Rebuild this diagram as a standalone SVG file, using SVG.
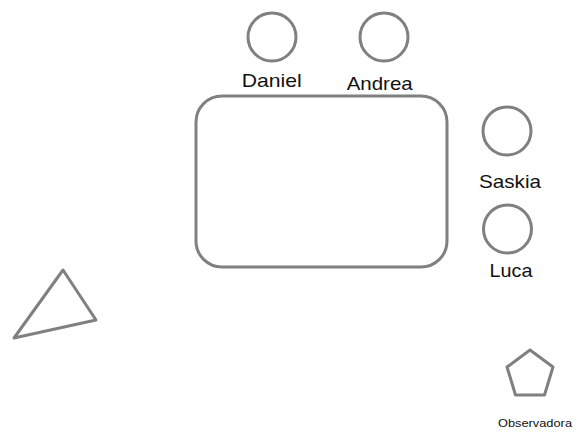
<svg xmlns="http://www.w3.org/2000/svg" width="582" height="436" viewBox="0 0 582 436">
<style>
.s{fill:#fff;stroke:#808080;stroke-width:3;stroke-linejoin:round}
.t{font-family:"Liberation Sans",Arial,sans-serif;font-size:18.6px;fill:#111;text-anchor:middle}
.o{font-family:"Liberation Sans",Arial,sans-serif;font-size:11.5px;fill:#111;text-anchor:middle}
</style>
<rect width="582" height="436" fill="#fff"/>
<g id="table"><rect class="s" x="196" y="96" width="251" height="171" rx="26"/></g>
<g id="daniel"><circle class="s" cx="272" cy="37" r="24"/><text class="t" x="271.7" y="86.5" textLength="60" lengthAdjust="spacingAndGlyphs">Daniel</text></g>
<g id="andrea"><circle class="s" cx="384" cy="37" r="24"/><text class="t" x="379.7" y="90" textLength="66" lengthAdjust="spacingAndGlyphs">Andrea</text></g>
<g id="saskia"><circle class="s" cx="507" cy="131" r="24"/><text class="t" x="510" y="188.3" textLength="62" lengthAdjust="spacingAndGlyphs">Saskia</text></g>
<g id="luca"><circle class="s" cx="507.5" cy="229" r="24"/><text class="t" x="511" y="276.7" textLength="43" lengthAdjust="spacingAndGlyphs">Luca</text></g>
<g id="triangle"><polygon class="s" points="63,270 96,320 14,338"/></g>
<g id="observadora"><polygon class="s" points="530,350 553,367 544.5,395 515.5,395 507,367"/><text class="o" x="535" y="426.5" textLength="74" lengthAdjust="spacingAndGlyphs">Observadora</text></g>
<g id="connectors"></g>
</svg>
